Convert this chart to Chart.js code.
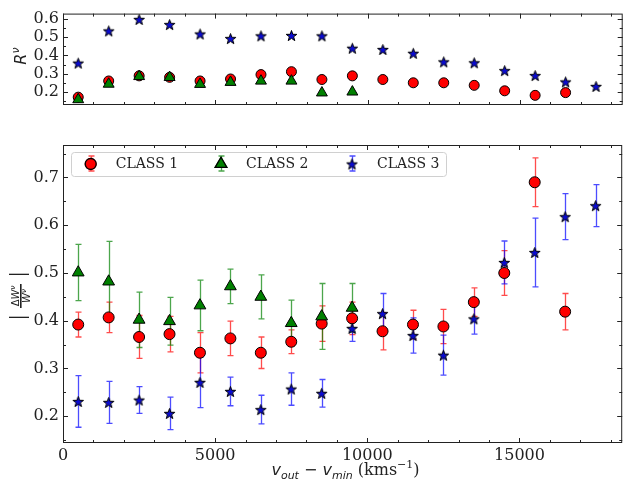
<!DOCTYPE html>
<html>
<head>
<meta charset="utf-8">
<script src="https://cdn.jsdelivr.net/npm/chart.js@4.4.1/dist/chart.umd.min.js"></script>
<style>
html, body { margin: 0; padding: 0; background: #fff; }
#wrap { position: relative; width: 630px; height: 489px; }
canvas { position: absolute; left: 0; }
#top { top: 0; }
#bot { top: 120px; }
</style>
</head>
<body>
<div id="wrap">
  <canvas id="top" width="630" height="120"></canvas>
  <canvas id="bot" width="630" height="369"></canvas>
</div>
<script>
// x positions (bin centres, km/s)
let vel = [500, 1500, 2500, 3500, 4500, 5500, 6500, 7500, 8500, 9500, 10500, 11500, 12500, 13500, 14500, 15500, 16500, 17500];

// top panel: R^v
let rClass1 = [0.171, 0.26, 0.288, 0.28, 0.26, 0.271, 0.295, 0.311, 0.268, 0.288, 0.268, 0.25, 0.25, 0.236, 0.206, 0.181, 0.196];
let rClass2 = [0.158, 0.243, 0.285, 0.28, 0.242, 0.253, 0.26, 0.26, 0.195, 0.2];
let rClass3 = [0.358, 0.535, 0.598, 0.57, 0.518, 0.493, 0.508, 0.51, 0.508, 0.44, 0.433, 0.412, 0.365, 0.36, 0.317, 0.29, 0.255, 0.23];

// bottom panel: |dW/W| and errors
let dwClass1 = [0.392, 0.407, 0.366, 0.372, 0.333, 0.363, 0.333, 0.356, 0.394, 0.405, 0.378, 0.392, 0.388, 0.439, 0.5, 0.69, 0.419];
let errClass1 = [0.026, 0.032, 0.045, 0.037, 0.042, 0.036, 0.033, 0.025, 0.037, 0.034, 0.039, 0.03, 0.036, 0.03, 0.047, 0.051, 0.038];
let dwClass2 = [0.501, 0.482, 0.402, 0.399, 0.432, 0.472, 0.45, 0.395, 0.409, 0.427];
let errClass2 = [0.059, 0.084, 0.058, 0.05, 0.053, 0.036, 0.046, 0.048, 0.069, 0.051];
let dwClass3 = [0.231, 0.229, 0.234, 0.206, 0.271, 0.252, 0.214, 0.257, 0.248, 0.384, 0.415, 0.369, 0.328, 0.404, 0.522, 0.543, 0.618, 0.641];
let errClass3 = [0.054, 0.044, 0.028, 0.034, 0.053, 0.03, 0.03, 0.034, 0.029, 0.027, 0.042, 0.037, 0.042, 0.032, 0.045, 0.072, 0.048, 0.044];

let labels = ['CLASS 1', 'CLASS 2', 'CLASS 3'];
let xTicks = [0, 5000, 10000, 15000];
let yTicksTop = [0.2, 0.3, 0.4, 0.5, 0.6];
let yTicksBot = [0.2, 0.3, 0.4, 0.5, 0.6, 0.7];

const RED = '#ff0000', GREEN = '#008000', BLUE = '#0a0ad2';
const SERIF = '"DejaVu Serif", serif';
const SANS = '"DejaVu Sans", sans-serif';

function pts(ys) {
    return ys.map((y, i) => ({ x: vel[i], y: y }));
}

// filled five point star, chart.js own 'star' is only strokes
function starImg(r) {
    let c = document.createElement('canvas');
    let s = Math.ceil(r * 2 + 3);
    c.width = s; c.height = s;
    let g = c.getContext('2d');
    g.beginPath();
    for (let i = 0; i < 10; i++) {
        let rr = i % 2 == 0 ? r : r * 0.4;
        let a = -Math.PI / 2 + i * Math.PI / 5;
        let px = s / 2 + rr * Math.cos(a), py = s / 2 + 0.6 + rr * Math.sin(a);
        i == 0 ? g.moveTo(px, py) : g.lineTo(px, py);
    }
    g.closePath();
    g.fillStyle = BLUE; g.fill();
    g.lineWidth = 1; g.strokeStyle = '#000'; g.stroke();
    return c;
}
let star = starImg(5.6);

let errorBars = {
    id: 'errorBars',
    beforeDatasetsDraw(chart) {
        let ctx = chart.ctx, xs = chart.scales.x, ys = chart.scales.y;
        chart.data.datasets.forEach(ds => {
            if (!ds.errors) return;
            ctx.save();
            ctx.strokeStyle = ds.errColor;
            ctx.lineWidth = 1.3;
            ds.data.forEach((p, i) => {
                let x = Math.round(xs.getPixelForValue(p.x)) + 0.5;
                let y1 = ys.getPixelForValue(p.y - ds.errors[i]);
                let y2 = ys.getPixelForValue(p.y + ds.errors[i]);
                ctx.beginPath();
                ctx.moveTo(x, y1); ctx.lineTo(x, y2);
                ctx.moveTo(x - 3, y1); ctx.lineTo(x + 3, y1);
                ctx.moveTo(x - 3, y2); ctx.lineTo(x + 3, y2);
                ctx.stroke();
            });
            ctx.restore();
        });
    }
};

// box with inward ticks on all four sides
let frame = {
    id: 'frame',
    afterDraw(chart) {
        let ctx = chart.ctx, a = chart.chartArea, x = chart.scales.x, y = chart.scales.y;
        ctx.save();
        ctx.strokeStyle = '#222';
        ctx.lineWidth = 1;
        ctx.strokeRect(a.left + 0.5, a.top + 0.5, a.right - a.left - 1, a.bottom - a.top - 1);
        ctx.beginPath();
        for (let v = 0; v <= x.max; v += 1000) {
            let px = Math.round(x.getPixelForValue(v)) + 0.5;
            let len = v % 5000 == 0 ? 5 : 3;
            ctx.moveTo(px, a.bottom); ctx.lineTo(px, a.bottom - len);
            ctx.moveTo(px, a.top); ctx.lineTo(px, a.top + len);
        }
        for (let k = Math.ceil(y.min / 0.05); k <= Math.floor(y.max / 0.05); k++) {
            let py = Math.round(y.getPixelForValue(k * 0.05)) + 0.5;
            let len = k % 2 == 0 ? 5 : 3;
            ctx.moveTo(a.left, py); ctx.lineTo(a.left + len, py);
            ctx.moveTo(a.right, py); ctx.lineTo(a.right - len, py);
        }
        ctx.stroke();
        ctx.restore();
    }
};

// draws a row of text pieces (different fonts / offsets) centred on cx
function drawRuns(ctx, runs, cx, base) {
    let w = 0;
    runs.forEach(r => { ctx.font = r.font; w += ctx.measureText(r.t).width; });
    let x = cx - w / 2;
    ctx.textAlign = 'left';
    ctx.textBaseline = 'alphabetic';
    runs.forEach(r => {
        ctx.font = r.font;
        ctx.fillText(r.t, x, base + (r.dy || 0));
        x += ctx.measureText(r.t).width;
    });
}

let topTitle = {
    id: 'topTitle',
    afterDraw(chart) {
        let ctx = chart.ctx;
        ctx.save();
        ctx.fillStyle = '#222';
        ctx.translate(26, 56);
        ctx.rotate(-Math.PI / 2);
        drawRuns(ctx, [
            { t: 'R', font: 'italic 16px ' + SANS },
            { t: 'ν', font: 'italic 11px ' + SANS, dy: -7 }
        ], 0, 0);
        ctx.restore();
    }
};

let botTitles = {
    id: 'botTitles',
    afterDraw(chart) {
        let ctx = chart.ctx;
        ctx.save();
        ctx.fillStyle = '#222';
        // x title
        drawRuns(ctx, [
            { t: 'v', font: 'italic 16px ' + SANS },
            { t: 'out', font: 'italic 11px ' + SANS, dy: 4 },
            { t: ' − ', font: '16px ' + SANS },
            { t: 'v', font: 'italic 16px ' + SANS },
            { t: 'min', font: 'italic 11px ' + SANS, dy: 4 },
            { t: ' (kms', font: '16px ' + SERIF },
            { t: '−1', font: '11px ' + SERIF, dy: -7 },
            { t: ')', font: '16px ' + SERIF }
        ], 345.5, 355);

        // y title: |dW^v / W^v|
        ctx.translate(21, 176);
        ctx.rotate(-Math.PI / 2);
        drawRuns(ctx, [
            { t: 'Δ', font: '10px ' + SANS },
            { t: 'W', font: 'italic 10px ' + SANS },
            { t: 'ν', font: 'italic 7px ' + SANS, dy: -4 }
        ], 0, -2.5);
        drawRuns(ctx, [
            { t: 'W', font: 'italic 10px ' + SANS },
            { t: 'ν', font: 'italic 7px ' + SANS, dy: -4 }
        ], 0, 9);
        ctx.fillRect(-12, -1, 24, 1.6);
        ctx.fillRect(-22, -12, 1.3, 20);
        ctx.fillRect(21, -12, 1.3, 20);
        ctx.restore();
    }
};

let legendBox = {
    id: 'legendBox',
    afterDraw(chart) {
        let ctx = chart.ctx;
        let x0 = 71, y0 = 32, x1 = 446, y1 = 56, cy = 44;
        ctx.save();
        ctx.beginPath();
        ctx.roundRect(x0 + 0.5, y0 + 0.5, x1 - x0, y1 - y0, 3);
        ctx.fillStyle = 'rgba(255,255,255,0.85)';
        ctx.fill();
        ctx.strokeStyle = '#d0d0d0';
        ctx.lineWidth = 1;
        ctx.stroke();
        let mx = [90.7, 221, 352];
        chart.data.datasets.forEach((ds, i) => {
            let x = Math.round(mx[i]) + 0.5;
            ctx.strokeStyle = ds.errColor;
            ctx.lineWidth = 1.3;
            ctx.beginPath();
            ctx.moveTo(x, cy - 8); ctx.lineTo(x, cy + 7);
            ctx.moveTo(x - 3, cy - 8); ctx.lineTo(x + 3, cy - 8);
            ctx.moveTo(x - 3, cy + 7); ctx.lineTo(x + 3, cy + 7);
            ctx.stroke();
            Chart.helpers.drawPoint(ctx, {
                pointStyle: ds.pointStyle, radius: ds.pointRadius, borderWidth: 1, rotation: 0
            }, mx[i], cy);
            ctx.fillStyle = ds.backgroundColor;
            ctx.strokeStyle = '#000';
            if (ds.pointStyle !== star) { ctx.fill(); ctx.stroke(); }
            ctx.fillStyle = '#222';
            ctx.font = '14px ' + SERIF;
            ctx.textAlign = 'left';
            ctx.textBaseline = 'middle';
            ctx.fillText(labels[i], mx[i] + 25, cy);
        });
        ctx.restore();
    }
};

function yScale(min, max, ticks) {
    return {
        type: 'linear', min: min, max: max,
        afterBuildTicks: s => { s.ticks = ticks.map(v => ({ value: v })); },
        afterFit: s => { s.width = 63; },
        grid: { display: false, drawTicks: false },
        border: { display: false },
        ticks: {
            padding: 4, color: '#222',
            font: { family: SERIF, size: 16 },
            callback: v => v.toFixed(1)
        }
    };
}

function xScale(h, show) {
    return {
        type: 'linear', min: 0, max: 18375,
        afterBuildTicks: s => { s.ticks = xTicks.map(v => ({ value: v })); },
        afterFit: s => { s.height = h; },
        grid: { display: false, drawTicks: false },
        border: { display: false },
        ticks: {
            display: show, padding: 3, color: '#222', maxRotation: 0,
            font: { family: SERIF, size: 16 },
            callback: v => String(v)
        }
    };
}

function dataset(ys, i, radius, errs) {
    let styles = ['circle', 'triangle', star];
    let fills = [RED, GREEN, BLUE];
    let errCols = ['rgba(255,0,0,0.7)', 'rgba(0,128,0,0.7)', 'rgba(0,0,255,0.7)'];
    return {
        label: labels[i],
        data: pts(ys),
        errors: errs,
        errColor: errCols[i],
        order: 3 - i,
        pointStyle: styles[i],
        pointRadius: i == 1 ? radius + 1.3 : radius,
        backgroundColor: fills[i],
        borderColor: '#000',
        borderWidth: 1,
        showLine: false
    };
}

let common = {
    responsive: false,
    animation: false,
    plugins: { legend: { display: false }, tooltip: { enabled: false } }
};

new Chart(document.getElementById('top'), {
    type: 'scatter',
    data: {
        datasets: [
            dataset(rClass1, 0, 5),
            dataset(rClass2, 1, 5),
            dataset(rClass3, 2, 5)
        ]
    },
    options: Object.assign({}, common, {
        layout: { padding: { top: 5, right: 2, left: 0, bottom: 0 } },
        scales: { x: xScale(15, false), y: yScale(0.128, 0.63, yTicksTop) }
    }),
    plugins: [frame, topTitle]
});

new Chart(document.getElementById('bot'), {
    type: 'scatter',
    data: {
        datasets: [
            dataset(dwClass1, 0, 5.5, errClass1),
            dataset(dwClass2, 1, 5.5, errClass2),
            dataset(dwClass3, 2, 5.5, errClass3)
        ]
    },
    options: Object.assign({}, common, {
        layout: { padding: { top: 25, right: 2, left: 0, bottom: 0 } },
        scales: { x: xScale(46, true), y: yScale(0.144, 0.768, yTicksBot) }
    }),
    plugins: [errorBars, frame, legendBox, botTitles]
});
</script>
</body>
</html>
